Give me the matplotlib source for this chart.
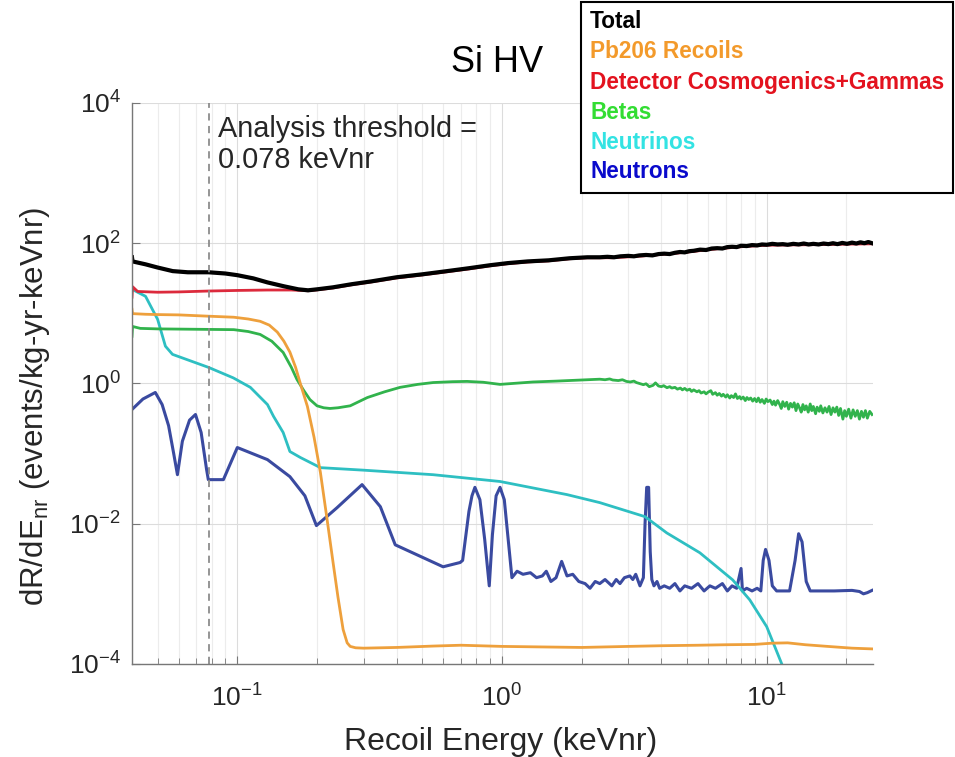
import matplotlib
matplotlib.use("Agg")
import matplotlib.pyplot as plt
from matplotlib.ticker import LogLocator, NullLocator, NullFormatter
from matplotlib.patches import Rectangle

plt.rcParams["font.family"] = ["Liberation Sans", "DejaVu Sans"]
plt.rcParams["mathtext.default"] = "regular"

# ---- data (keVnr, events/kg-yr-keVnr) ----
total_x = [0.040, 0.0402, 0.045, 0.05, 0.057, 0.065, 0.078, 0.09, 0.10, 0.115, 0.13, 0.15,
           0.17, 0.185, 0.20, 0.23, 0.27, 0.32, 0.40, 0.50, 0.62, 0.75, 0.90, 1.05, 1.25,
           1.5, 1.8, 2.1, 2.34, 2.5, 2.65, 2.8, 3.0, 3.15, 3.3, 3.5, 3.7, 3.9, 4.1, 4.3,
           4.5, 4.7, 4.9, 5.1, 5.3, 5.6, 5.9, 6.2, 6.5, 6.8, 7.1, 7.4, 7.7, 8.0, 8.4, 8.8,
           9.2, 9.6, 10.0, 10.5, 11.0, 11.5, 12.0, 12.6, 13.2, 13.8, 14.4, 15.0, 15.7,
           16.4, 17.1, 17.8, 18.5, 19.3, 20.1, 21.0, 21.8, 22.6, 23.4, 24.2, 25.0]
total_y = [63, 55, 50, 45, 40, 38.5, 38.5, 37, 35, 31.5, 27.6, 24.3,
           22, 21.3, 22, 23.5, 26, 28.5, 32.7, 36, 40, 44, 48.5, 52, 55,
           57, 61, 63, 63, 64, 63, 65, 66, 65, 67, 68, 67, 70, 71, 70,
           73, 75, 74, 77, 78, 81, 80, 84, 85, 84, 88, 89, 88, 92, 91, 94,
           93, 96, 95, 98, 96, 97, 95, 98, 96, 99, 96, 98, 96,
           99, 97, 100, 97, 101, 98, 102, 99, 103, 100, 104, 100]

pb_x = [0.04, 0.0402, 0.045, 0.05, 0.06, 0.078, 0.097, 0.11, 0.122, 0.132, 0.1416, 0.15,
        0.158, 0.166, 0.173, 0.184, 0.195, 0.206, 0.218, 0.23, 0.24, 0.251, 0.26, 0.267,
        0.28, 0.3, 0.4, 0.55, 0.7, 1.0, 1.4, 2.0, 3.0, 4.0, 5.5, 7.0, 9.0, 10.5, 12.0,
        14.0, 17.0, 21.0, 25.0]
pb_y = [11.4, 9.9, 9.7, 9.6, 9.5, 9.1, 8.8, 8.3, 7.7, 6.8, 5.4, 4.0,
        2.8, 1.7, 1.0, 0.47, 0.17, 0.054, 0.012, 0.0028, 0.0009, 0.00031, 0.0002, 0.000178,
        0.00017, 0.000168, 0.000172, 0.00018, 0.000185, 0.000178, 0.000175, 0.000172,
        0.000178, 0.000182, 0.000185, 0.000188, 0.00019, 0.000198, 0.0002,
        0.000188, 0.000178, 0.000168, 0.000164]

cosmo_x = [0.04, 0.0402, 0.042, 0.05, 0.06, 0.078, 0.1, 0.13, 0.16, 0.185, 0.2, 0.23, 0.27,
           0.32, 0.4, 0.5, 0.62, 0.75, 0.9, 1.05, 1.25, 1.5, 1.8, 2.1, 2.6, 3.2, 4.1, 5.0,
           5.6, 6.4, 7.2, 8.0, 9.0, 10.0, 12.5, 16.0, 20.0, 25.0]
cosmo_y = [17, 24, 20.5, 20, 20.2, 20.8, 21.2, 21.5, 21.5, 21, 21.6, 23, 25.5,
           28, 32, 35.3, 39.2, 43, 47.5, 51, 54, 56, 60, 62, 62, 64.7, 69.6, 74.5,
           78.4, 82.8, 86, 89, 91.6, 93.6, 94.6, 95.5, 97, 98]

beta_x = [0.04, 0.0402, 0.043, 0.05, 0.06, 0.078, 0.097, 0.11, 0.122, 0.135, 0.149, 0.16,
          0.168, 0.178, 0.188, 0.2, 0.212, 0.224, 0.24, 0.267, 0.31, 0.36, 0.412, 0.48,
          0.549, 0.65, 0.738, 0.85, 0.983, 1.1, 1.31, 1.6, 2.0,
          2.34, 2.45, 2.55, 2.62, 2.75, 2.85, 2.95, 3.05, 3.15, 3.22, 3.3, 3.42, 3.5, 3.6,
          3.72, 3.8, 3.9, 4.0, 4.08, 4.2, 4.3, 4.38, 4.5, 4.6, 4.72, 4.8, 4.9, 5.0, 5.12,
          5.2, 5.3, 5.45, 5.55, 5.65, 5.8, 5.9, 6.0, 6.15, 6.25, 6.4, 6.5, 6.62, 6.75,
          6.85, 7.0, 7.1, 7.25, 7.35, 7.5, 7.62, 7.75, 7.9, 8.0, 8.15, 8.3, 8.42, 8.55,
          8.7, 8.85, 9.0, 9.15, 9.3, 9.45, 9.6, 9.8, 9.95, 10.1, 10.3, 10.5, 10.65, 10.8,
          11.0, 11.2, 11.35, 11.5, 11.7, 11.9, 12.1, 12.3, 12.5, 12.7, 12.9, 13.1, 13.3,
          13.5, 13.7, 13.9, 14.1, 14.35, 14.6, 14.8, 15.0, 15.3, 15.5, 15.8, 16.0, 16.3,
          16.6, 16.9, 17.2, 17.5, 17.8, 18.1, 18.4, 18.7, 19.0, 19.4, 19.7, 20.0, 20.4,
          20.8, 21.2, 21.6, 22.0, 22.4, 22.8, 23.2, 23.6, 24.0, 24.5, 25.0]
beta_y = [4.7, 6.5, 6.1, 6.0, 5.95, 5.9, 5.85, 5.5, 5.0, 4.0, 2.77, 1.7,
          1.14, 0.8, 0.59, 0.48, 0.45, 0.44, 0.45, 0.48, 0.63, 0.76, 0.88, 0.97,
          1.03, 1.06, 1.07, 1.04, 0.97, 1.0, 1.05, 1.08, 1.12,
          1.15, 1.13, 1.16, 1.12, 1.10, 1.13, 1.07, 1.05, 1.08, 1.03, 1.0, 0.96, 0.99, 0.9,
          0.94, 1.02, 0.92, 0.9, 0.93, 0.87, 0.9, 0.86, 0.88, 0.83, 0.86, 0.81, 0.85, 0.8,
          0.83, 0.77, 0.81, 0.76, 0.79, 0.73, 0.76, 0.71, 0.75, 0.79, 0.7, 0.74, 0.68, 0.72,
          0.66, 0.7, 0.64, 0.69, 0.62, 0.67, 0.63, 0.71, 0.61, 0.65, 0.6, 0.64, 0.57, 0.63,
          0.59, 0.62, 0.56, 0.61, 0.55, 0.62, 0.54, 0.59, 0.52, 0.6, 0.55, 0.58, 0.5, 0.56,
          0.49, 0.57, 0.5, 0.44, 0.55, 0.47, 0.54, 0.43, 0.52, 0.46, 0.53, 0.41, 0.51, 0.45,
          0.39, 0.5, 0.42, 0.48, 0.39, 0.51, 0.41, 0.47, 0.37, 0.46, 0.4, 0.48, 0.38, 0.45,
          0.39, 0.47, 0.36, 0.45, 0.39, 0.46, 0.35, 0.44, 0.31, 0.41, 0.34, 0.43, 0.32, 0.42,
          0.34, 0.41, 0.31, 0.4, 0.33, 0.41, 0.32, 0.4, 0.36]

nu_x = [0.04, 0.045, 0.05, 0.0535, 0.0569, 0.078, 0.0966, 0.112, 0.13, 0.137, 0.149,
        0.158, 0.173, 0.206, 0.3, 0.549, 0.983, 1.76, 2.34, 3.47, 4.19, 5.59, 7.44, 8.63,
        10.0, 11.4, 12.0]
nu_y = [22, 17.5, 8.2, 3.4, 2.6, 1.69, 1.2, 0.88, 0.5, 0.34, 0.2,
        0.107, 0.088, 0.063, 0.058, 0.05, 0.04, 0.026, 0.02, 0.0126, 0.0074, 0.00385,
        0.00158, 0.00082, 0.00034, 0.0001, 0.00005]

neut_x = [0.04, 0.044, 0.049, 0.052, 0.055, 0.0575, 0.0594, 0.062, 0.066, 0.0695, 0.073,
          0.0765, 0.0777, 0.0886, 0.1, 0.13, 0.158, 0.18, 0.199, 0.238, 0.296, 0.347,
          0.395, 0.599, 0.695, 0.71, 0.75, 0.77, 0.79, 0.825, 0.86, 0.895, 0.92, 0.95,
          0.983, 1.02, 1.06, 1.09, 1.14, 1.2, 1.28, 1.35, 1.42, 1.47, 1.53, 1.6, 1.68,
          1.76, 1.85, 1.95, 2.06, 2.15, 2.25, 2.34, 2.45, 2.6, 2.7, 2.79, 2.9, 3.04,
          3.12, 3.2, 3.32, 3.42, 3.47, 3.52, 3.58, 3.63, 3.68, 3.75, 3.85, 3.94, 4.1,
          4.3, 4.5, 4.7, 4.9, 5.2, 5.5, 5.8, 6.1, 6.4, 6.8, 7.1, 7.4, 7.7, 8.0, 8.1,
          8.4, 8.8, 9.2, 9.5, 9.7, 9.9, 10.2, 10.5, 10.9, 12.2, 12.8, 13.2, 13.6, 14.1,
          14.6, 18.0, 21.0, 22.4, 23.2, 24.0, 25.0]
neut_y = [0.425, 0.6, 0.744, 0.5, 0.25, 0.1, 0.05, 0.15, 0.3, 0.361, 0.2,
          0.06, 0.0425, 0.0425, 0.122, 0.082, 0.0469, 0.025, 0.0094, 0.0169, 0.0361, 0.0175,
          0.005, 0.00243, 0.0028, 0.003, 0.015, 0.025, 0.033, 0.022, 0.006, 0.0013, 0.007,
          0.025, 0.033, 0.022, 0.005, 0.0017, 0.0021, 0.0019, 0.002, 0.0017, 0.0018,
          0.0021, 0.0015, 0.0017, 0.0029, 0.0018, 0.0019, 0.0015, 0.0014, 0.0012, 0.0015,
          0.0014, 0.0016, 0.0013, 0.0016, 0.0014, 0.0017, 0.0018, 0.0016, 0.0019, 0.0013,
          0.0017, 0.01, 0.033, 0.033, 0.004, 0.0016, 0.0013, 0.0015, 0.0012, 0.0013,
          0.0012, 0.0014, 0.0011, 0.0013, 0.0012, 0.0014, 0.0011, 0.0013, 0.0012, 0.0014,
          0.0011, 0.0013, 0.0012, 0.0023, 0.0011, 0.0012, 0.0011, 0.0012, 0.0011, 0.003,
          0.0043, 0.003, 0.0013, 0.0011, 0.0011, 0.003, 0.0072, 0.0055, 0.0015,
          0.0011, 0.0011, 0.00112, 0.00108, 0.001, 0.00104, 0.00112]

threshold = 0.078

legend_labels = ["Total", "Pb206 Recoils", "Detector Cosmogenics+Gammas", "Betas",
                 "Neutrinos", "Neutrons"]
legend_colors = ["black", "#f39a2b", "#e3121e", "#33dd33", "#33e3e3", "#0a0acc"]

# ---- figure ----
fig = plt.figure(figsize=(9.55, 7.57), dpi=100)
ax = fig.add_axes([0.1382, 0.1229, 0.7759, 0.7411])

ax.plot(neut_x, neut_y, color="#3a4aa0", lw=2.2)
ax.plot(nu_x, nu_y, color="#2ebfc2", lw=2.0)
ax.plot(beta_x, beta_y, color="#31b34c", lw=2.0)
ax.plot(pb_x, pb_y, color="#eea03c", lw=2.0)
ax.plot(cosmo_x, cosmo_y, color="#dc2a3c", lw=2.0)
ax.plot(total_x, total_y, color="black", lw=3.0)

ax.axvline(threshold, color="#8c8c8c", ls=(0, (4, 3)), lw=1.3)

ax.set_xscale("log")
ax.set_yscale("log")
ax.set_xlim(0.04, 25.2)
ax.set_ylim(1e-4, 1e4)
ax.set_yticks([1e-4, 1e-2, 1e0, 1e2, 1e4])
ax.yaxis.set_minor_locator(NullLocator())
ax.xaxis.set_minor_locator(LogLocator(base=10, subs=range(2, 10)))
ax.xaxis.set_minor_formatter(NullFormatter())

ax.grid(True, which="major", color="#dcdcdc", lw=0.8)
ax.grid(True, which="minor", axis="x", color="#ececec", lw=0.8)
ax.set_axisbelow(True)

for s in ["top", "right"]:
    ax.spines[s].set_visible(False)
for s in ["left", "bottom"]:
    ax.spines[s].set_color("#777777")
    ax.spines[s].set_linewidth(1.0)

ax.tick_params(which="both", direction="in", color="#777777", labelcolor="#262626",
               labelsize=19)
ax.tick_params(which="major", length=6)
ax.tick_params(which="minor", length=4)
ax.tick_params(axis="x", pad=15)
ax.tick_params(axis="y", pad=8)

ax.set_xlabel("Recoil Energy (keVnr)", fontsize=23, color="#262626")
ax.xaxis.set_label_coords(0.497, -0.112)
ax.set_ylabel("dR/dE$_{nr}$ (events/kg-yr-keVnr)", fontsize=22.5, color="#262626")
ax.yaxis.set_label_coords(-0.108, 0.46)

tr = ax.get_xaxis_transform()
ax.text(0.0848, 0.9394, "Analysis threshold =", transform=tr, fontsize=20.8,
        color="#262626", va="baseline")
ax.text(0.0848, 0.8841, "0.078 keVnr", transform=tr, fontsize=20.8,
        color="#262626", va="baseline")

fig.text(497.5 / 955, 1 - 72 / 757, "Si HV", fontsize=26, ha="center", va="baseline")

# legend box (extends past the axes, as in the original)
box = Rectangle((581 / 955, 1 - 193 / 757), 372 / 955, 191 / 757, transform=fig.transFigure,
                facecolor="white", edgecolor="black", lw=1.5, zorder=5)
fig.add_artist(box)
baselines = [28, 58, 89, 119, 149, 178]
for lab, col, b in zip(legend_labels, legend_colors, baselines):
    fig.text(590 / 955, 1 - b / 757, lab, color=col, fontsize=16.3, fontweight="bold",
             va="baseline", zorder=6)

fig.savefig("out.png", dpi=100)
